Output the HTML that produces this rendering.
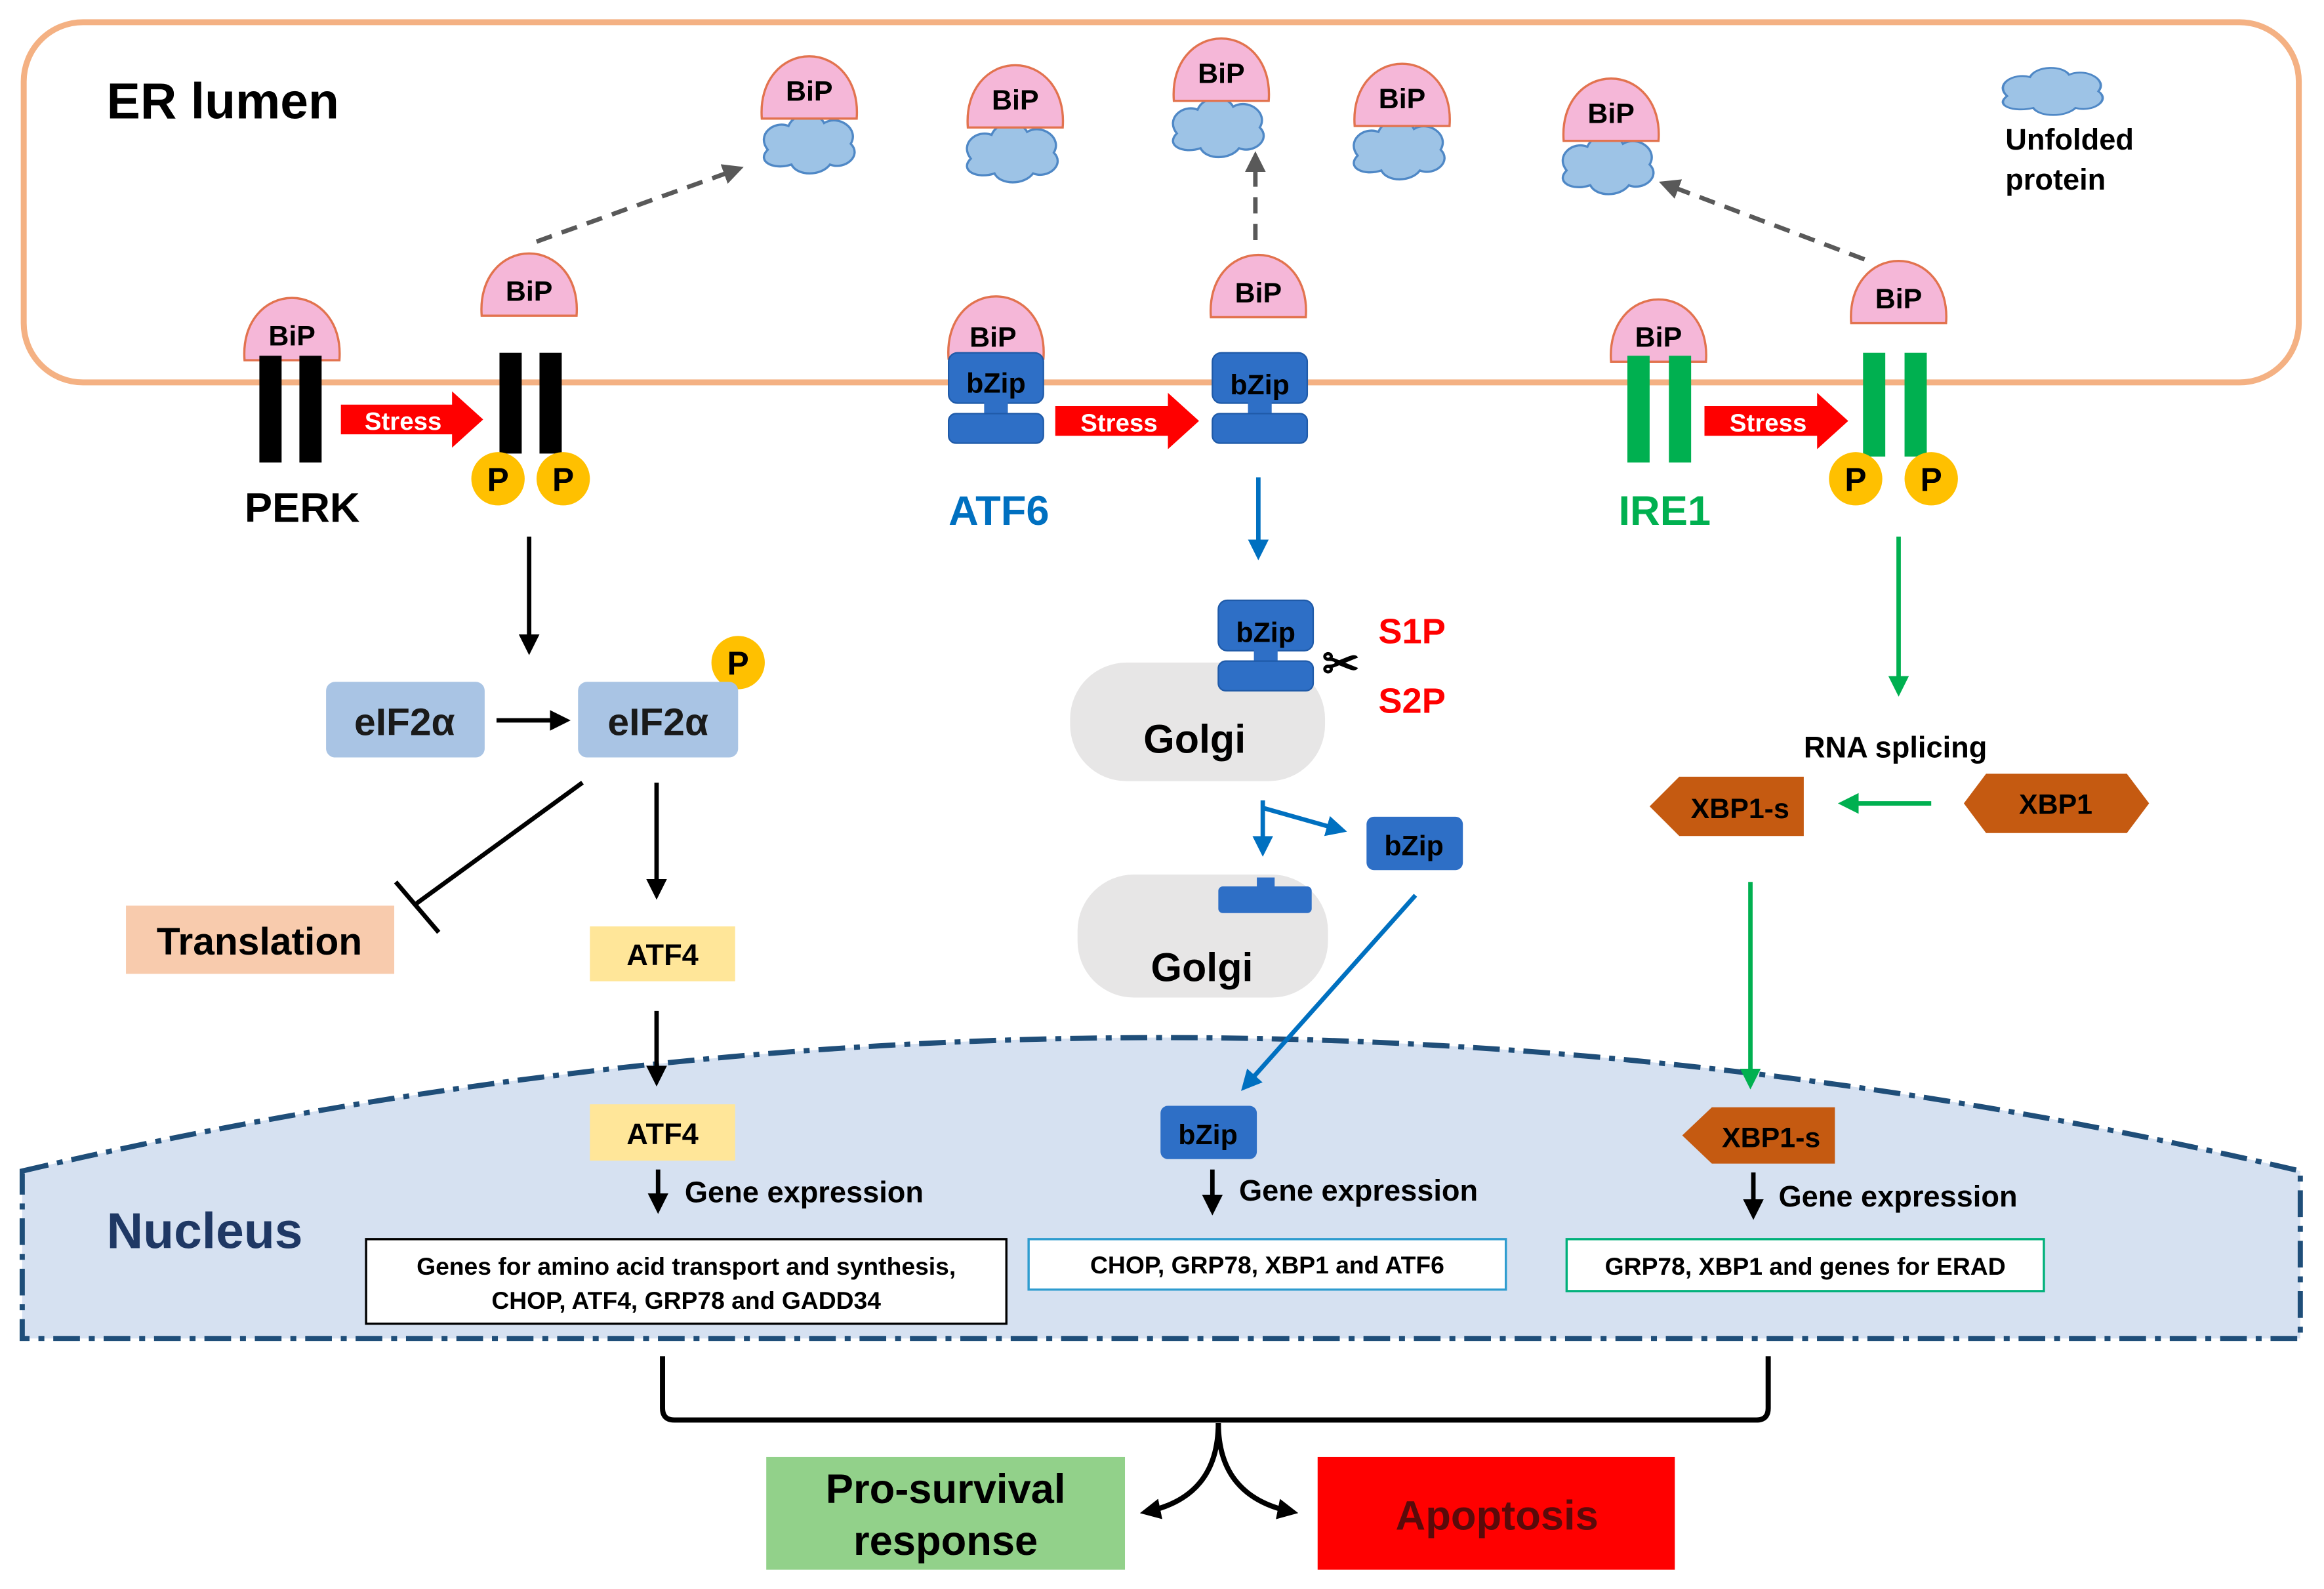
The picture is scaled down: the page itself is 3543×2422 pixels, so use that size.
<!DOCTYPE html>
<html><head><meta charset="utf-8"><style>
html,body{margin:0;padding:0;background:#fff;}
svg{display:block;}
text{font-family:"Liberation Sans",sans-serif;font-weight:bold;}
</style></head><body>
<svg width="3543" height="2422" viewBox="0 0 1568 1072" preserveAspectRatio="none" xmlns="http://www.w3.org/2000/svg">
<defs>
<marker id="ak2" markerWidth="14" markerHeight="14" refX="10" refY="7" orient="auto" markerUnits="userSpaceOnUse"><path d="M0,0 L14,7 L0,14 z" fill="#000"/></marker>
<marker id="ab" markerWidth="14" markerHeight="14" refX="10" refY="7" orient="auto" markerUnits="userSpaceOnUse"><path d="M0,0 L14,7 L0,14 z" fill="#0070c0"/></marker>
<marker id="ag" markerWidth="14" markerHeight="14" refX="10" refY="7" orient="auto" markerUnits="userSpaceOnUse"><path d="M0,0 L14,7 L0,14 z" fill="#00b050"/></marker>
<marker id="ad" markerWidth="14" markerHeight="14" refX="10" refY="7" orient="auto" markerUnits="userSpaceOnUse"><path d="M0,0 L14,7 L0,14 z" fill="#595959"/></marker>
<g id="bip"><path d="M-32,0 C-34,-26 -18,-42 0,-42 C18,-42 34,-26 32,0 Z" fill="#f5b7d8" stroke="#e2734f" stroke-width="1.5"/></g>
<g id="cloud"><path d="M-28,6 C-36,-4 -24,-14 -14,-10 C-10,-20 6,-20 10,-12 C20,-18 34,-8 28,2 C36,10 24,20 14,16 C8,24 -8,24 -12,16 C-24,20 -36,14 -28,6 Z" fill="#9dc3e6" stroke="#4f88c6" stroke-width="1.5"/></g>
<g id="bz"><rect x="-32" y="0" width="64" height="34" rx="6" fill="#2e6fc6" stroke="#1f5aa8"/><rect x="-8" y="33" width="16" height="10" fill="#2e6fc6"/><rect x="-32" y="41" width="64" height="20" rx="5" fill="#2e6fc6" stroke="#1f5aa8"/></g>
</defs>
<rect x="16" y="15" width="1535" height="243" rx="40" fill="#fff" stroke="#f4b183" stroke-width="4"/>
<text x="72" y="80" font-size="34" fill="#000">ER lumen</text>
<path d="M15,790 Q785,610 1552,790 L1552,903 L15,903 Z" fill="#d6e1f1" stroke="#1f4e79" stroke-width="3.5" stroke-dasharray="18,6,4,6"/>
<text x="72" y="842" font-size="34" fill="#1f3864">Nucleus</text>

<g font-size="19" text-anchor="middle" fill="#000">
<g transform="translate(546,95)"><use href="#cloud"/></g><g transform="translate(546,80)"><use href="#bip"/></g><text x="546" y="68">BiP</text>
<g transform="translate(683,101)"><use href="#cloud"/></g><g transform="translate(685,86)"><use href="#bip"/></g><text x="685" y="74">BiP</text>
<g transform="translate(822,84)"><use href="#cloud"/></g><g transform="translate(824,68)"><use href="#bip"/></g><text x="824" y="56">BiP</text>
<g transform="translate(944,99)"><use href="#cloud"/></g><g transform="translate(946,85)"><use href="#bip"/></g><text x="946" y="73">BiP</text>
<g transform="translate(1085,109)"><use href="#cloud"/></g><g transform="translate(1087,95)"><use href="#bip"/></g><text x="1087" y="83">BiP</text>
</g>
<g transform="translate(1385,60) scale(1.1,0.8)"><use href="#cloud"/></g>
<text x="1353" y="101" font-size="20">Unfolded</text><text x="1353" y="128" font-size="20">protein</text>

<line x1="362" y1="163" x2="498" y2="114" stroke="#595959" stroke-width="3" stroke-dasharray="11,7" marker-end="url(#ad)"/>
<line x1="847" y1="162" x2="847" y2="106" stroke="#595959" stroke-width="3" stroke-dasharray="11,7" marker-end="url(#ad)"/>
<line x1="1258" y1="175" x2="1123" y2="124" stroke="#595959" stroke-width="3" stroke-dasharray="11,7" marker-end="url(#ad)"/>

<g font-size="17" fill="#fff" text-anchor="middle">
<path d="M230,273 H305 V264 L326,283 L305,302 V293 H230 Z" fill="#f00"/><text x="272" y="290">Stress</text>
<path d="M712,274 H788 V265 L809,284 L788,303 V294 H712 Z" fill="#f00"/><text x="755" y="291">Stress</text>
<path d="M1150,274 H1226 V265 L1247,284 L1226,303 V294 H1150 Z" fill="#f00"/><text x="1193" y="291">Stress</text>
</g>

<g font-size="19" text-anchor="middle">
<g transform="translate(197,243)"><use href="#bip"/></g><text x="197" y="233">BiP</text>
<rect x="175" y="240" width="15" height="72" fill="#000"/><rect x="202" y="240" width="15" height="72" fill="#000"/>
<g transform="translate(357,213)"><use href="#bip"/></g><text x="357" y="203">BiP</text>
<rect x="337" y="238" width="15" height="68" fill="#000"/><rect x="364" y="238" width="15" height="68" fill="#000"/>
</g>
<text x="165" y="352" font-size="28" fill="#000">PERK</text>
<g font-size="22" text-anchor="middle">
<circle cx="336" cy="323" r="18" fill="#ffc000"/><text x="336" y="331">P</text>
<circle cx="380" cy="323" r="18" fill="#ffc000"/><text x="380" y="331">P</text>
<circle cx="498" cy="447" r="18" fill="#ffc000"/><text x="498" y="455">P</text>
</g>
<line x1="357" y1="362" x2="357" y2="438" stroke="#000" stroke-width="3" marker-end="url(#ak2)"/>
<rect x="220" y="460" width="107" height="51" rx="6" fill="#a9c4e4"/><text x="273" y="496" font-size="26" text-anchor="middle" fill="#1a1a1a">eIF2α</text>
<rect x="390" y="460" width="108" height="51" rx="6" fill="#a9c4e4"/><text x="444" y="496" font-size="26" text-anchor="middle" fill="#1a1a1a">eIF2α</text>
<line x1="335" y1="486" x2="381" y2="486" stroke="#000" stroke-width="3" marker-end="url(#ak2)"/>
<line x1="393" y1="528" x2="279" y2="611" stroke="#000" stroke-width="3"/>
<line x1="267" y1="595" x2="296" y2="629" stroke="#000" stroke-width="3"/>
<rect x="85" y="611" width="181" height="46" fill="#f8cbad"/><text x="175" y="644" font-size="26" text-anchor="middle">Translation</text>
<line x1="443" y1="528" x2="443" y2="603" stroke="#000" stroke-width="3" marker-end="url(#ak2)"/>
<rect x="398" y="625" width="98" height="37" fill="#ffe699"/><text x="447" y="651" font-size="20" text-anchor="middle">ATF4</text>
<line x1="443" y1="682" x2="443" y2="729" stroke="#000" stroke-width="3" marker-end="url(#ak2)"/>
<rect x="398" y="745" width="98" height="38" fill="#ffe699"/><text x="447" y="772" font-size="20" text-anchor="middle">ATF4</text>
<line x1="444" y1="789" x2="444" y2="815" stroke="#000" stroke-width="3" marker-end="url(#ak2)"/>
<text x="462" y="811" font-size="20">Gene expression</text>
<rect x="247" y="836" width="432" height="57" fill="#fff" stroke="#000" stroke-width="1.5"/>
<text x="463" y="860" font-size="16.5" text-anchor="middle">Genes for amino acid transport and synthesis,</text>
<text x="463" y="883" font-size="16.5" text-anchor="middle">CHOP, ATF4, GRP78 and GADD34</text>

<g font-size="19" text-anchor="middle">
<g transform="translate(672,242)"><use href="#bip"/></g><text x="670" y="234">BiP</text>
<g transform="translate(672,238)"><use href="#bz"/></g><text x="672" y="265">bZip</text>
<g transform="translate(849,214)"><use href="#bip"/></g><text x="849" y="204">BiP</text>
<g transform="translate(850,238)"><use href="#bz"/></g><text x="850" y="266">bZip</text>
</g>
<text x="640" y="354" font-size="28" fill="#0070c0">ATF6</text>
<line x1="849" y1="322" x2="849" y2="374" stroke="#0070c0" stroke-width="3" marker-end="url(#ab)"/>
<rect x="722" y="447" width="172" height="80" rx="38" fill="#e7e6e6"/><text x="806" y="508" font-size="27" text-anchor="middle">Golgi</text>
<g transform="translate(854,405)"><use href="#bz"/></g><text x="854" y="433" font-size="19" text-anchor="middle">bZip</text>
<text x="892" y="458" font-size="30">✂</text>
<text x="930" y="434" font-size="24" fill="#f00">S1P</text><text x="930" y="481" font-size="24" fill="#f00">S2P</text>
<rect x="727" y="590" width="169" height="83" rx="38" fill="#e7e6e6"/><text x="811" y="662" font-size="27" text-anchor="middle">Golgi</text>
<rect x="822" y="598" width="63" height="18" rx="3" fill="#2e6fc6"/><rect x="848" y="592" width="12" height="8" fill="#2e6fc6"/>
<line x1="852" y1="540" x2="852" y2="574" stroke="#0070c0" stroke-width="3" marker-end="url(#ab)"/>
<line x1="852" y1="545" x2="905" y2="560" stroke="#0070c0" stroke-width="3" marker-end="url(#ab)"/>
<rect x="922" y="551" width="65" height="36" rx="5" fill="#2e6fc6"/><text x="954" y="577" font-size="19" text-anchor="middle">bZip</text>
<line x1="955" y1="604" x2="840" y2="733" stroke="#0070c0" stroke-width="3" marker-end="url(#ab)"/>
<rect x="783" y="746" width="65" height="36" rx="5" fill="#2e6fc6"/><text x="815" y="772" font-size="19" text-anchor="middle">bZip</text>
<line x1="818" y1="789" x2="818" y2="816" stroke="#000" stroke-width="3" marker-end="url(#ak2)"/>
<text x="836" y="810" font-size="20">Gene expression</text>
<rect x="694" y="836" width="322" height="34" fill="#fff" stroke="#2e9ccf" stroke-width="1.5"/>
<text x="855" y="859" font-size="16.5" text-anchor="middle">CHOP, GRP78, XBP1 and ATF6</text>

<g font-size="19" text-anchor="middle">
<g transform="translate(1119,244)"><use href="#bip"/></g><text x="1119" y="234">BiP</text>
<rect x="1098" y="240" width="15" height="72" fill="#00b050"/><rect x="1126" y="240" width="15" height="72" fill="#00b050"/>
<g transform="translate(1281,218)"><use href="#bip"/></g><text x="1281" y="208">BiP</text>
<rect x="1257" y="238" width="15" height="70" fill="#00b050"/><rect x="1285" y="238" width="15" height="70" fill="#00b050"/>
</g>
<text x="1092" y="354" font-size="28" fill="#00b050">IRE1</text>
<g font-size="22" text-anchor="middle">
<circle cx="1252" cy="323" r="18" fill="#ffc000"/><text x="1252" y="331">P</text>
<circle cx="1303" cy="323" r="18" fill="#ffc000"/><text x="1303" y="331">P</text>
</g>
<line x1="1281" y1="362" x2="1281" y2="466" stroke="#00b050" stroke-width="3" marker-end="url(#ag)"/>
<text x="1217" y="511" font-size="20">RNA splicing</text>
<path d="M1325,542 L1340,522 H1435 L1450,542 L1435,562 H1340 Z" fill="#c55a11"/><text x="1387" y="549" font-size="19" text-anchor="middle">XBP1</text>
<path d="M1113,544 L1133,524 H1217 V564 H1133 Z" fill="#c55a11"/><text x="1174" y="552" font-size="19" text-anchor="middle">XBP1-s</text>
<line x1="1303" y1="542" x2="1244" y2="542" stroke="#00b050" stroke-width="3" marker-end="url(#ag)"/>
<line x1="1181" y1="595" x2="1181" y2="731" stroke="#00b050" stroke-width="3" marker-end="url(#ag)"/>
<path d="M1135,766 L1155,747 H1238 V785 H1155 Z" fill="#c55a11"/><text x="1195" y="774" font-size="19" text-anchor="middle">XBP1-s</text>
<line x1="1183" y1="791" x2="1183" y2="819" stroke="#000" stroke-width="3" marker-end="url(#ak2)"/>
<text x="1200" y="814" font-size="20">Gene expression</text>
<rect x="1057" y="836" width="322" height="35" fill="#fff" stroke="#00b07a" stroke-width="1.5"/>
<text x="1218" y="860" font-size="16.5" text-anchor="middle">GRP78, XBP1 and genes for ERAD</text>

<path d="M447,915 V950 Q447,958 455,958 H1185 Q1193,958 1193,950 V915" fill="none" stroke="#000" stroke-width="3.5"/>
<path d="M822,960 Q822,1010 773,1020" fill="none" stroke="#000" stroke-width="3.5" marker-end="url(#ak2)"/>
<path d="M822,960 Q822,1010 872,1020" fill="none" stroke="#000" stroke-width="3.5" marker-end="url(#ak2)"/>
<rect x="517" y="983" width="242" height="76" fill="#92d18a"/>
<text x="638" y="1014" font-size="28" text-anchor="middle">Pro-survival</text><text x="638" y="1049" font-size="28" text-anchor="middle">response</text>
<rect x="889" y="983" width="241" height="76" fill="#ff0000"/>
<text x="1010" y="1032" font-size="28" text-anchor="middle" fill="#5a0a0a" font-weight="normal">Apoptosis</text>
</svg>
</body></html>
